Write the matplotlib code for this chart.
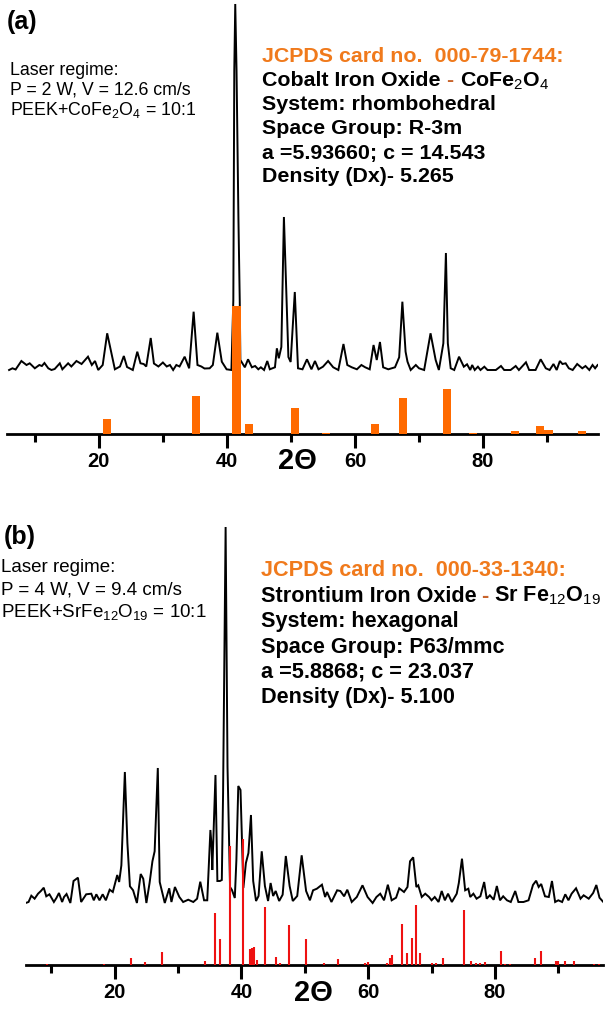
import numpy as np
import matplotlib
matplotlib.use('Agg')
import matplotlib.pyplot as plt
from matplotlib.ticker import FixedLocator

plt.rcParams['font.family'] = ['Liberation Sans', 'DejaVu Sans']
plt.rcParams['mathtext.fontset'] = 'custom'
plt.rcParams['mathtext.rm'] = 'Liberation Sans'
plt.rcParams['mathtext.bf'] = 'Liberation Sans:bold'
plt.rcParams['mathtext.it'] = 'Liberation Sans:italic'

# ---- panel (a): PEEK + CoFe2O4, measured pattern (2theta, intensity a.u.)
a_tt = [5.98, 6.5, 7.0, 7.9, 8.7, 9.2, 10.0, 10.7, 11.1, 11.5,
        12.1, 12.6, 13.1, 13.9, 14.3, 15.2, 15.7, 16.5, 17.3, 18.3,
        18.9, 19.4, 19.9, 20.6, 21.3, 21.97, 22.5, 23.3, 23.9, 24.4,
        25.3, 26.0, 26.5, 27.0, 27.4, 28.1, 28.6, 29.3, 30.0, 30.6,
        31.1, 31.6, 32.1, 32.6, 33.4, 34.1, 34.8, 35.4, 36.0, 36.5,
        37.3, 37.8, 38.5, 39.2, 39.95, 40.7, 41.0, 41.15, 41.3, 41.5,
        41.8, 42.0, 42.1, 42.8, 43.3, 43.9, 44.4, 44.9, 45.3, 45.8,
        46.3, 46.7, 47.5, 47.8, 48.1, 48.5, 48.9, 49.6, 49.95, 50.6,
        51.1, 51.8, 52.5, 53.2, 53.75, 54.3, 55.0, 55.8, 56.6, 57.4,
        58.2, 58.8, 59.5, 60.3, 61.0, 61.6, 62.3, 62.9, 63.4, 63.9,
        64.4, 65.2, 66.25, 66.9, 67.4, 67.9, 68.2, 68.7, 69.5, 70.0,
        70.8, 71.8, 72.6, 73.1, 73.8, 74.2, 74.5, 74.95, 75.5, 76.25,
        77.0, 77.5, 78.0, 78.3, 78.7, 79.2, 79.6, 80.2, 80.7, 82.0,
        82.8, 83.3, 84.3, 85.1, 85.6, 86.7, 87.2, 88.2, 89.0, 89.8,
        90.4, 91.0, 91.5, 92.0, 92.4, 92.9, 93.4, 94.0, 94.7, 95.5,
        96.0, 96.6, 97.1, 97.5, 97.9]
a_int = [0, 1.7, 0.5, 9, 5, 6.7, 1.7, 5, 4, 7,
         1.7, 0, 1, 6.7, 0.7, 6.7, 3.5, 9, 6, 13.3,
         5, 9, 0, 5, 36.7, 16.7, 0.7, 3.5, 14, 3,
         0, 18.3, 6.7, 6, 3.5, 32, 6.5, 3.5, 7.5, 3.5,
         5, 0, 5, 3.5, 13.3, 1.7, 58.3, 5, 3.5, 1.5,
         1.7, 5, 37.3, 8.3, 0.7, 0, 70, 300, 366, 300,
         150, 70, 10, 2.7, 10.7, 2.7, 4, 0.7, 2.7, 0,
         9, 0.7, 2.7, 21.7, 11.7, 23, 153, 13, 8, 78,
         1.7, 0.7, 10.7, 0.7, 9, 0.7, 3.3, 9, 2.7, 0,
         26, 5, 2.7, 0.7, 5, 2.7, 0.7, 25, 10, 28,
         2.7, 0.7, 2.7, 12.7, 68.3, 18.3, 8.3, 0, 5, 1.7,
         0, 36.7, 10, 0, 26.7, 117, 26.7, 1.7, 0, 13.3,
         3.3, 5.7, 0, 5, 0, 3.3, 0, 3.3, 0, 0,
         4, 0, 0, 4, 0, 7.7, 0, 0, 10.7, 1.7,
         0, 6, 0, 9, 6, 6.7, 1.7, 0, 6, 1.7,
         4, 0, 5, 1.7, 5]

# JCPDS 000-79-1744 reference lines (relative intensity, %)
a_ref_tt = [21.25, 35.2, 41.5, 43.5, 50.6, 55.5, 63.1, 67.45, 74.4, 78.4,
            85.0, 88.9, 90.2, 95.5]
a_ref_int = [11.7, 29.7, 100, 7.8, 20.3, 1.0, 7.8, 28.0, 35.0, 1.0,
             2.7, 6.3, 3.1, 2.3]

# ---- panel (b): PEEK + SrFe12O19, measured pattern
b_tt = [5.94, 6.4, 6.84, 7.36, 7.9, 8.35, 8.8, 9.2, 9.7, 10.4,
        10.8, 11.2, 11.7, 12.0, 12.4, 13.0, 13.5, 14.2, 14.7, 15.5,
        16.3, 16.7, 17.1, 17.6, 18.1, 18.6, 19.2, 19.7, 20.4, 20.7,
        21.05, 21.6, 22.0, 22.4, 22.9, 23.5, 24.1, 24.5, 25.0, 25.5,
        25.95, 26.3, 26.8, 27.1, 27.9, 28.6, 28.95, 29.5, 30.2, 30.8,
        31.6, 32.4, 33.0, 33.5, 34.1, 34.6, 35.1, 35.3, 35.4, 35.9,
        36.2, 36.6, 36.9, 37.1, 37.5, 37.8, 38.2, 38.5, 38.95, 39.2,
        39.5, 39.85, 40.3, 40.7, 41.1, 41.5, 41.85, 42.3, 42.7, 43.2,
        43.7, 44.2, 44.6, 45.0, 45.4, 45.95, 46.5, 47.0, 47.6, 48.1,
        48.8, 49.5, 50.2, 50.8, 51.3, 51.9, 52.7, 53.2, 53.5, 54.2,
        55.1, 55.6, 56.2, 56.7, 57.4, 58.2, 59.1, 59.9, 60.7, 61.3,
        61.9, 62.5, 63.1, 63.7, 64.4, 64.9, 65.65, 66.2, 66.6, 67.1,
        67.6, 67.9, 68.45, 69.0, 69.6, 70.0, 70.5, 71.1, 71.6, 72.1,
        72.6, 73.2, 73.97, 74.3, 74.8, 75.3, 75.8, 76.1, 76.6, 77.1,
        77.7, 78.3, 78.7, 79.2, 79.8, 80.3, 80.8, 81.3, 81.9, 82.5,
        83.2, 83.7, 84.5, 85.3, 86.0, 86.5, 86.9, 87.3, 87.9, 88.5,
        89.0, 89.5, 90.0, 90.6, 91.1, 91.6, 92.1, 92.8, 93.5, 94.0,
        94.8, 95.5, 96.0, 96.5, 97.1]
b_int = [0, 1, 7.3, 4.3, 9.3, 12, 15.3, 6.7, 8.7, 1,
         5, 10, 1, 6, 9, 0, 22, 25.3, 1, 8.7,
         9.3, 2.7, 8.7, 2.7, 8.7, 2.7, 13.3, 11, 28, 21,
         37.7, 131, 60, 16.7, 12.7, 0, 29, 24.3, 0, 20,
         41.7, 51.7, 135, 21, 0, 14.7, 1, 16, 6, 1,
         3.3, 1, 4.3, 21.3, 2.7, 2.7, 73, 56, 33, 128,
         22, 22, 23, 110, 376, 136, 16, 13, 5, 43,
         117, 113, 15, 40, 50, 88, 22, 2, 7, 51.7,
         17, 2, 20, 7, 12, 2, 8.3, 47, 17, 2,
         7, 47.7, 12, 2.7, 12.7, 14.3, 18.3, 6, 11, 1,
         12.7, 12, 6.7, 13.3, 1, 6, 17.7, 6, 0, 6,
         9.3, 2.7, 18.3, 2.7, 5.3, 14.7, 11, 16, 41.7, 45.7,
         16, 17.7, 6, 9.3, 6, 2.7, 6, 1, 12, 2.7,
         9.3, 1, 9.3, 20, 44.3, 12.7, 14.3, 6, 9.3, 4.3,
         6.7, 21, 4.3, 7.7, 3.3, 17, 2.7, 6.7, 2.7, 1,
         12, 1, 1, 2.7, 18, 22.3, 16, 19, 6.7, 6,
         22, 1, 2.7, 1, 8.7, 2.7, 9.3, 14.7, 4.3, 7.7,
         4.3, 10, 18, 5.3, 1]

# JCPDS 000-33-1340 reference lines (relative intensity, %)
b_ref_tt = [9.3, 18.3, 22.5, 24.7, 27.4, 34.2, 35.8, 36.6, 38.2, 40.2,
            41.3, 41.6, 42.0, 42.4, 43.7, 45.4, 46.1, 47.5, 50.2, 53.0,
            55.3, 59.5, 59.9, 63.0, 63.4, 63.8, 65.4, 66.2, 66.9, 67.5,
            68.2, 70.0, 70.7, 71.8, 75.1, 76.2, 77.0, 77.6, 78.45, 80.9,
            81.6, 82.3, 86.4, 87.3, 89.7, 89.9, 91.0, 92.5, 95.6, 96.5]
b_ref_int = [0.8, 0.8, 5.8, 2.6, 10.1, 3.2, 41.6, 20.7, 94.7, 100,
             12.5, 13.3, 14.6, 4.0, 46.4, 6.6, 1.4, 31.8, 20.4, 1.4,
             4.8, 1.8, 2.6, 1.4, 5.3, 8.0, 32.6, 9.8, 21.2, 47.7,
             9.8, 1.4, 1.4, 5.3, 43.8, 3.4, 1.4, 1.4, 2.6, 11.4,
             1.0, 1.0, 5.3, 11.4, 3.4, 3.4, 3.4, 3.4, 0.8, 0.8]

major_ticks = [20, 40, 60, 80]
minor_ticks = [10, 30, 50, 70, 90]

ORANGE = '#ff6a00'
TXT_ORANGE = '#f07a1c'
DASH = '#c8642c'

W, H = 614, 1010
fig = plt.figure(figsize=(W / 100, H / 100), dpi=100)


def px_axes(left, right, bottom, top):
    # axes box given in pixel coords of the picture (y from top)
    return fig.add_axes([left / W, 1 - bottom / H, (right - left) / W, (bottom - top) / H])


def style_axis(ax, xlim, ymax):
    ax.set_xlim(*xlim)
    ax.set_ylim(0, ymax)
    for s in ['left', 'right', 'top']:
        ax.spines[s].set_visible(False)
    ax.spines['bottom'].set_linewidth(2.0)
    ax.set_yticks([])
    ax.xaxis.set_major_locator(FixedLocator(major_ticks))
    ax.xaxis.set_minor_locator(FixedLocator(minor_ticks))
    ax.tick_params(axis='x', which='major', direction='out', length=10, width=2.2, pad=3, labelsize=14.5)
    ax.tick_params(axis='x', which='minor', direction='out', length=5.5, width=2.2)
    for lbl in ax.get_xticklabels():
        lbl.set_fontweight('bold')
    ax.patch.set_alpha(0)


def ftext(x, y, s, **kw):
    return fig.text(x / W, 1 - y / H, s, va='center', ha='left', **kw)


def multi_text(x, y, parts, size):
    # pieces of one line in different colours, placed side by side
    r = fig.canvas.get_renderer()
    for s, c, gap in parts:
        t = ftext(x + gap, y, s, color=c, fontsize=size, fontweight='bold')
        x = t.get_window_extent(r).x1


# ---------------- panel (a)
ax1 = px_axes(7.3, 598.3, 434, 0)
style_axis(ax1, (5.7, 98.0), 434)
ax1.plot(a_tt, np.array(a_int) + 64, color='black', lw=1.4, solid_joinstyle='miter')
ax1.bar(a_ref_tt, np.array(a_ref_int) * 1.28, width=1.3, color=ORANGE, zorder=3)

ftext(7, 22, '(a)', fontsize=18, fontweight='bold')
ftext(10, 70, 'Laser regime:', fontsize=12.8)
ftext(10, 90, 'P = 2 W, V = 12.6 cm/s', fontsize=12.8)
ftext(10, 110, r'PEEK+CoFe$_\mathrm{2}$O$_\mathrm{4}$ = 10:1', fontsize=12.8)

fa = 15.4
ftext(262, 57, 'JCPDS card no.  000-79-1744:', fontsize=fa, fontweight='bold', color=TXT_ORANGE)
multi_text(262, 81, [('Cobalt Iron Oxide', 'black', 0), ('-', DASH, 6),
                     (r'CoFe$_\mathrm{2}$O$_\mathrm{4}$', 'black', 6)], fa)
ftext(262, 105, 'System: rhombohedral', fontsize=fa, fontweight='bold')
ftext(262, 129, 'Space Group: R-3m', fontsize=fa, fontweight='bold')
ftext(262, 153, 'a =5.93660; c = 14.543', fontsize=fa, fontweight='bold')
ftext(262, 177, 'Density (Dx)- 5.265', fontsize=fa, fontweight='bold')
fig.text(297 / W, 1 - 461 / H, '2Θ', ha='center', va='center', fontsize=21, fontweight='bold')

# ---------------- panel (b)
ax2 = px_axes(26, 603.3, 965, 520)
style_axis(ax2, (6.0, 97.1), 445)
ax2.plot(b_tt, np.array(b_int) + 62, color='black', lw=1.4, solid_joinstyle='miter')
ax2.vlines(b_ref_tt, 0, np.array(b_ref_int) * 1.257, color='#ee1111', lw=1.5, zorder=3)

ftext(4, 537, '(b)', fontsize=18, fontweight='bold')
ftext(1, 568, 'Laser regime:', fontsize=13.5)
ftext(1, 590, 'P = 4 W, V = 9.4 cm/s', fontsize=13.5)
ftext(1, 612, r'PEEK+SrFe$_\mathrm{12}$O$_\mathrm{19}$ = 10:1', fontsize=13.5)

fb = 15.6
ftext(261, 570, 'JCPDS card no.  000-33-1340:', fontsize=fb, fontweight='bold', color=TXT_ORANGE)
multi_text(261, 596, [('Strontium Iron Oxide', 'black', 0), ('-', DASH, 5),
                      (r'Sr Fe$_\mathrm{12}$O$_\mathrm{19}$', 'black', 5)], fb)
ftext(261, 622, 'System: hexagonal', fontsize=fb, fontweight='bold')
ftext(261, 647, 'Space Group: P63/mmc', fontsize=fb, fontweight='bold')
ftext(261, 672, 'a =5.8868; c = 23.037', fontsize=fb, fontweight='bold')
ftext(261, 697, 'Density (Dx)- 5.100', fontsize=fb, fontweight='bold')
fig.text(313 / W, 1 - 993 / H, '2Θ', ha='center', va='center', fontsize=21, fontweight='bold')

fig.savefig('out.png', dpi=100)
